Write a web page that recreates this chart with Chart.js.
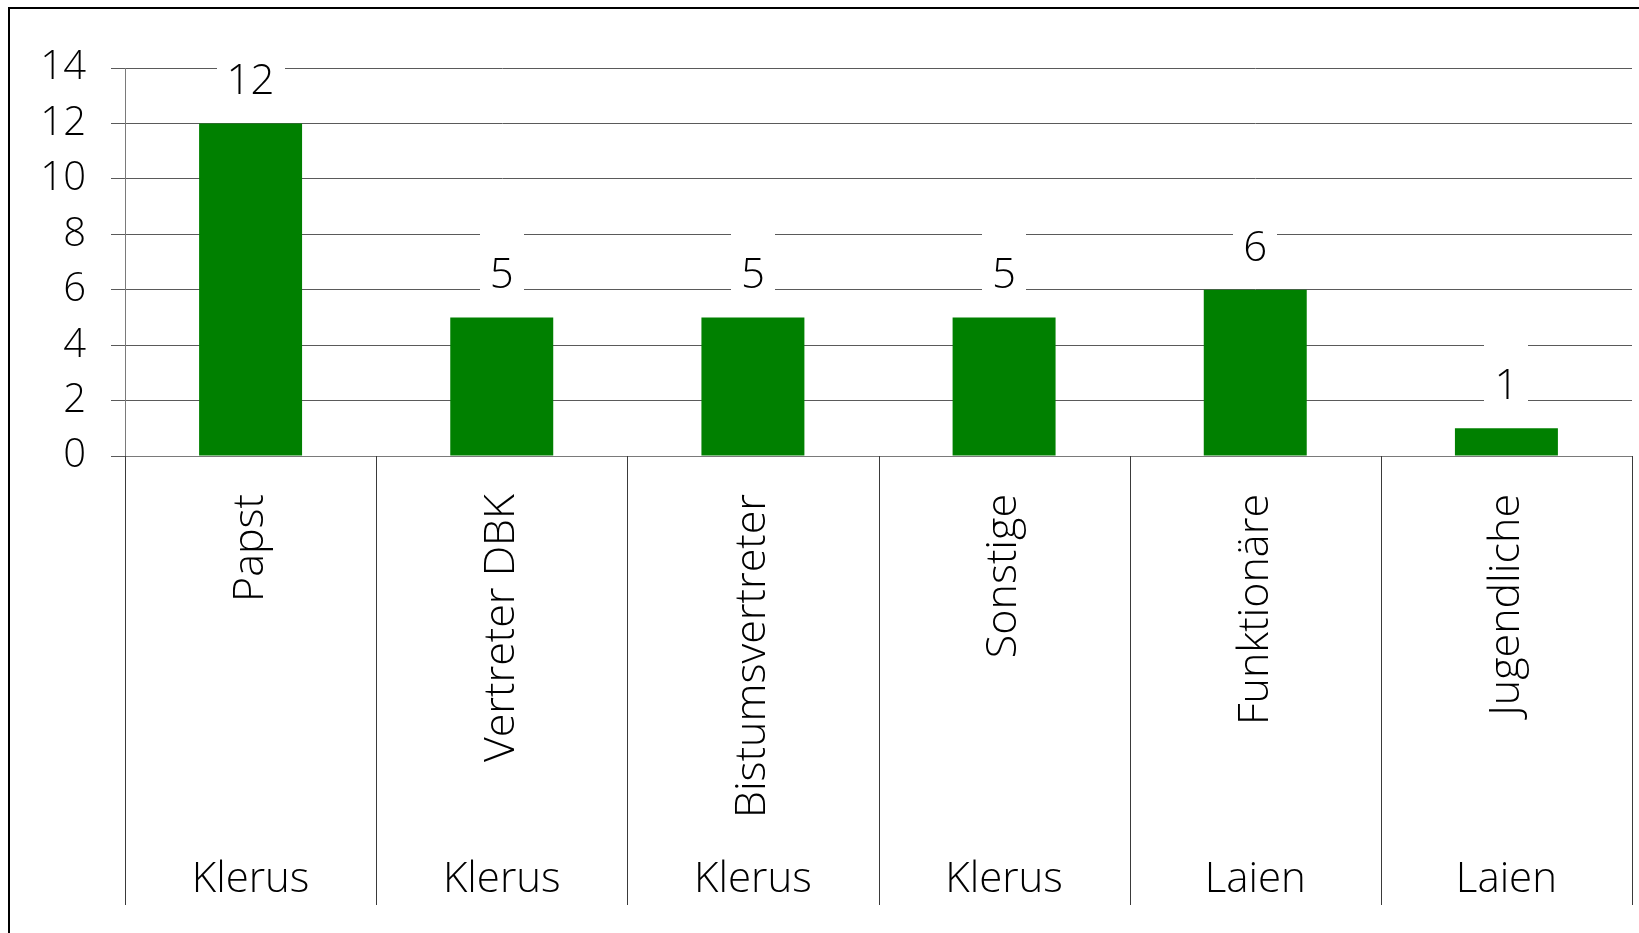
<!DOCTYPE html>
<html>
<head>
<meta charset="utf-8">
<script src="https://cdn.jsdelivr.net/npm/chart.js@4/dist/chart.umd.min.js"></script>
<style>
  html, body { margin: 0; padding: 0; background: #ffffff; }
  #wrap { position: relative; width: 1639px; height: 933px; }
</style>
</head>
<body>
<div id="wrap"><canvas id="c"></canvas></div>
<script>
const categories = ['Papst', 'Vertreter DBK', 'Bistumsvertreter', 'Sonstige', 'Funktionäre', 'Jugendliche'];
const groups = ['Klerus', 'Klerus', 'Klerus', 'Klerus', 'Laien', 'Laien'];
const values = [12, 5, 5, 5, 6, 1];
const yMin = 0;
const yMax = 14;
const yStep = 2;

const FONT = '"Open Sans", "Lato", sans-serif';
const GRID = '#5a5a5a';

const framePlugin = {
  id: 'frame',
  beforeDraw(chart) {
    const ctx = chart.ctx;
    ctx.save();
    ctx.fillStyle = '#ffffff';
    ctx.fillRect(0, 0, chart.width, chart.height);
    ctx.strokeStyle = '#000000';
    ctx.lineWidth = 2;
    ctx.beginPath();
    ctx.moveTo(9, chart.height + 5);
    ctx.lineTo(9, 8);
    ctx.lineTo(chart.width + 5, 8);
    ctx.stroke();
    ctx.restore();
  }
};

const labelPlugin = {
  id: 'valueLabels',
  afterDatasetsDraw(chart) {
    const ctx = chart.ctx;
    const meta = chart.getDatasetMeta(0);
    ctx.save();
    ctx.font = '300 42px ' + FONT;
    ctx.textAlign = 'center';
    ctx.textBaseline = 'middle';
    meta.data.forEach((el, i) => {
      const txt = String(values[i]);
      const w = ctx.measureText(txt).width;
      const cy = el.y - 41;
      ctx.fillStyle = '#ffffff';
      ctx.fillRect(Math.round(el.x - w / 2 - 10), Math.round(cy - 45), Math.round(w + 20), 72);
      ctx.fillStyle = '#000000';
      ctx.fillText(txt, el.x, cy);
    });
    ctx.restore();
  }
};

const groupPlugin = {
  id: 'groupAxis',
  afterDraw(chart) {
    const x = chart.scales.x;
    const ctx = chart.ctx;
    const n = categories.length;
    const half = (x.getPixelForValue(1) - x.getPixelForValue(0)) / 2;
    ctx.save();
    ctx.strokeStyle = '#3a3a3a';
    ctx.lineWidth = 1;
    for (let i = 0; i <= n; i++) {
      const px = Math.round(i < n ? x.getPixelForValue(i) - half : x.getPixelForValue(n - 1) + half) + 0.5;
      ctx.beginPath();
      ctx.moveTo(px, x.top);
      ctx.lineTo(px, x.bottom);
      ctx.stroke();
    }
    ctx.font = '300 42px ' + FONT;
    ctx.fillStyle = '#000000';
    ctx.textAlign = 'center';
    ctx.textBaseline = 'alphabetic';
    groups.forEach((g, i) => {
      ctx.fillText(g, x.getPixelForValue(i), x.bottom - 13);
    });
    ctx.restore();
  }
};

new Chart(document.getElementById('c'), {
  type: 'bar',
  data: {
    labels: categories,
    datasets: [{
      data: values,
      backgroundColor: '#008000',
      borderWidth: 0,
      barPercentage: 0.41,
      categoryPercentage: 1.0
    }]
  },
  options: {
    responsive: true,
    maintainAspectRatio: false,
    animation: false,
    layout: { padding: { top: 68, left: 0, right: 7, bottom: 28 } },
    plugins: {
      legend: { display: false },
      tooltip: { enabled: false },
      title: { display: false }
    },
    scales: {
      x: {
        grid: { display: false, drawTicks: false },
        border: { display: true, color: '#7a7a7a', width: 1 },
        ticks: {
          color: '#000000',
          font: { family: FONT, size: 43, weight: 300 },
          minRotation: 90,
          maxRotation: 90,
          padding: 38,
          autoSkip: false
        },
        afterFit(scale) { scale.height = 449; }
      },
      y: {
        min: yMin,
        max: yMax,
        grid: { color: GRID, lineWidth: 1, drawTicks: true, tickLength: 14, tickColor: GRID },
        border: { display: true, color: '#7a7a7a', width: 1 },
        ticks: {
          stepSize: yStep,
          color: '#000000',
          padding: 25,
          font: { family: FONT, size: 40, weight: 300 }
        },
        afterFit(scale) { scale.width = 125; }
      }
    }
  },
  plugins: [framePlugin, labelPlugin, groupPlugin]
});
</script>
</body>
</html>
